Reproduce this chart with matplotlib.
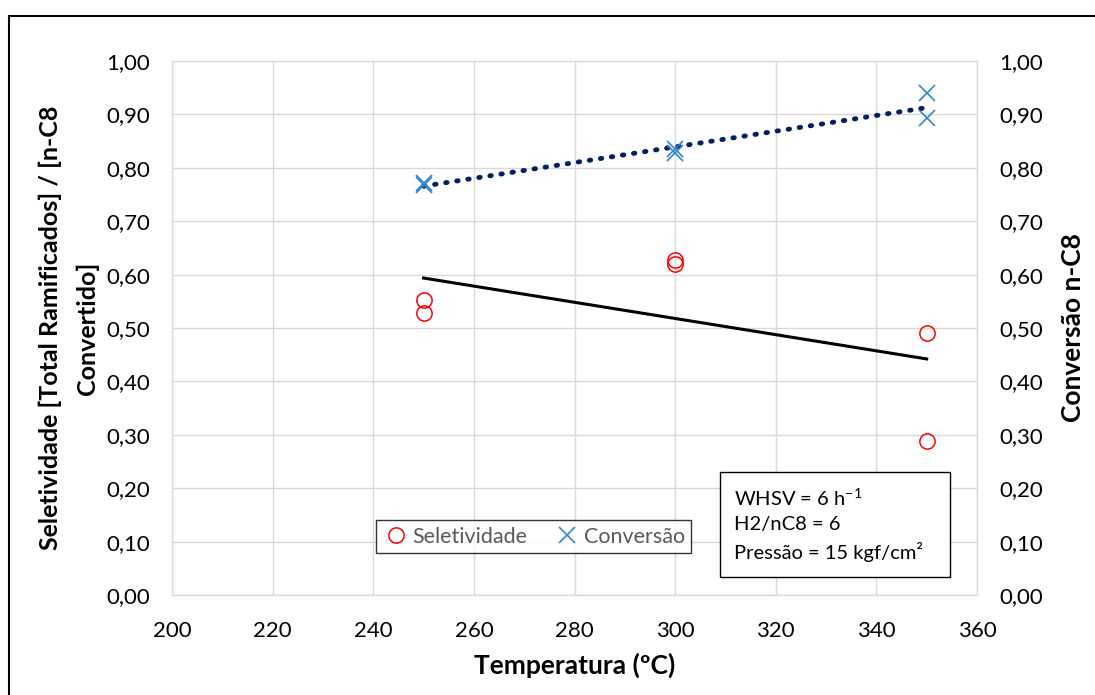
import numpy as np
import matplotlib
matplotlib.use("Agg")
import matplotlib.pyplot as plt
from matplotlib.ticker import FuncFormatter
from matplotlib.patches import Rectangle

plt.rcParams['font.family'] = ['Lato', 'DejaVu Sans']

temp_sel = [250, 250, 300, 300, 350, 350]
seletividade = [0.553, 0.528, 0.628, 0.620, 0.490, 0.288]
temp_conv = [250, 250, 300, 300, 350, 350]
conversao = [0.772, 0.767, 0.835, 0.828, 0.940, 0.893]

xticks = [200, 220, 240, 260, 280, 300, 320, 340, 360]
yticks = [0.0, 0.1, 0.2, 0.3, 0.4, 0.5, 0.6, 0.7, 0.8, 0.9, 1.0]

W, H = 1095.0, 695.0
L, R, T, B = 172.0, 977.0, 61.0, 595.0

fig = plt.figure(figsize=(10.95, 6.95), dpi=100)
ax = fig.add_axes([L / W, 1 - B / H, (R - L) / W, (B - T) / H])
ax2 = ax.twinx()

grid_c = '#d9d9d9'
ax.set_xlim(200, 360)
ax.set_ylim(0, 1.0)
ax2.set_ylim(0, 1.0)
ax.set_xticks(xticks)
ax.set_yticks(yticks)
ax2.set_yticks(yticks)
ax.grid(True, color=grid_c, linewidth=1)
ax.set_axisbelow(True)

fmt = FuncFormatter(lambda v, p: f"{v:.2f}".replace('.', ','))
ax.yaxis.set_major_formatter(fmt)
ax2.yaxis.set_major_formatter(fmt)
for a in (ax, ax2):
    a.tick_params(length=0, labelsize=16, colors='black', pad=16)
    for s in a.spines.values():
        s.set_color(grid_c)
ax.tick_params(axis='x', pad=19)

# trendlines (least squares)
xs = np.array([250, 350])
c1 = np.polyfit(temp_sel, seletividade, 1)
c2 = np.polyfit(temp_conv, conversao, 1)
ax.plot(xs, np.polyval(c1, xs), color='black', linewidth=2.2, zorder=3)
ax.plot(xs, np.polyval(c2, xs), color='#002060', linewidth=3.5,
        linestyle=(0, (0.3, 2.0)), dash_capstyle='round', zorder=3)

ax.plot(temp_sel, seletividade, linestyle='none', marker='o', markersize=11,
        markerfacecolor='none', markeredgecolor='#ff0000', markeredgewidth=1.1,
        label='Seletividade', zorder=4)
ax.plot(temp_conv, conversao, linestyle='none', marker='x', markersize=11,
        markeredgecolor='#2e86d1', markeredgewidth=1.2, color='#2e86d1',
        label='Conversão', zorder=4)

ax.set_xlabel('Temperatura (ºC)', fontsize=19, fontweight='bold', labelpad=8)
ax.set_ylabel('Seletividade [Total Ramificados] / [n-C8\nConvertido]',
              fontsize=18, fontweight='bold', labelpad=5, linespacing=1.7)
ax2.set_ylabel('Conversão n-C8', fontsize=19, fontweight='bold', labelpad=13)

leg = ax.legend(loc='lower left', bbox_to_anchor=((376 - L) / (R - L), (B - 553) / (B - T)),
                ncol=2, fontsize=15.5, frameon=True, fancybox=False, edgecolor='black',
                handletextpad=0.1, columnspacing=1.2, handlelength=1.3,
                borderpad=0.3, borderaxespad=0)
leg.get_frame().set_linewidth(1.0)
for t in leg.get_texts():
    t.set_color('#595959')

x0 = (720 - L) / (R - L)
x1 = (950 - L) / (R - L)
y0 = (B - 577) / (B - T)
y1 = (B - 472) / (B - T)
box = Rectangle((x0, y0), x1 - x0, y1 - y0, transform=ax.transAxes,
                facecolor='white', edgecolor='black', linewidth=1.0, zorder=5)
ax.add_patch(box)
ax.text(x0 + 0.017, (y0 + y1) / 2,
        'WHSV = 6 h$^{\\mathregular{-1}}$\nH2/nC8 = 6\nPressão = 15 kgf/cm²',
        transform=ax.transAxes, fontsize=14.5, va='center', ha='left',
        linespacing=1.55, zorder=6)

# outer chart border
fig.add_artist(Rectangle((9 / W, -0.05), 1.2, 1.05 - 16 / H,
                         transform=fig.transFigure, fill=False,
                         edgecolor='black', linewidth=1.5))

fig.savefig('out.png', dpi=100)
